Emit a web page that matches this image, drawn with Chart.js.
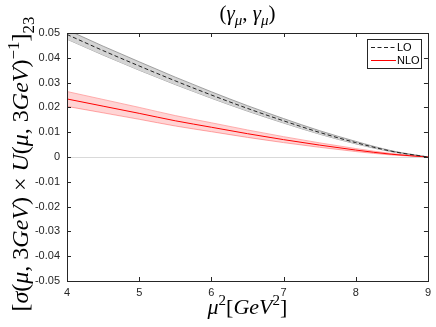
<!DOCTYPE html>
<html>
<head>
<meta charset="utf-8">
<script src="https://cdn.jsdelivr.net/npm/chart.js@4/dist/chart.umd.min.js"></script>
<style>
  body { margin: 0; background: #fff; }
  canvas { display: block; }
</style>
</head>
<body>
<canvas id="c" width="436" height="327"></canvas>
<script>
// data
const muSq = [4, 4.5, 5, 5.5, 6, 6.5, 7, 7.5, 8, 8.5, 9];
const loMid = [0.0494, 0.0429, 0.0367, 0.0307, 0.0250, 0.0196, 0.0146, 0.0099, 0.0058, 0.0023, 0];
const loUpper = [0.0513, 0.0447, 0.0384, 0.0322, 0.0263, 0.0207, 0.0155, 0.0106, 0.0063, 0.0025, 0];
const loLower = [0.0475, 0.0411, 0.0350, 0.0292, 0.0237, 0.0185, 0.0137, 0.0092, 0.0053, 0.0021, 0];
const nloMid = [0.0234, 0.0205, 0.0176, 0.0146, 0.0120, 0.0094, 0.0070, 0.0048, 0.0028, 0.0011, 0];
const nloUpper = [0.0264, 0.0232, 0.0200, 0.0167, 0.0138, 0.0109, 0.0082, 0.0057, 0.0034, 0.0014, 0];
const nloLower = [0.0204, 0.0178, 0.0152, 0.0125, 0.0102, 0.0079, 0.0058, 0.0039, 0.0022, 0.0008, 0];
const xTicks = [4, 5, 6, 7, 8, 9];
const yTicks = [-0.05, -0.04, -0.03, -0.02, -0.01, 0, 0.01, 0.02, 0.03, 0.04, 0.05];

const pts = (ys) => muSq.map((x, i) => ({ x: x, y: ys[i] }));
const axisColor = "#262626";
const serif = "'Liberation Serif', 'DejaVu Serif', serif";

// draw text made of pieces with sub/superscripts, centred on (x, y)
function drawRich(ctx, segs, x, y, size, angle) {
  ctx.save();
  ctx.translate(x, y);
  ctx.rotate(angle || 0);
  ctx.textBaseline = "alphabetic";
  ctx.textAlign = "left";
  let total = 0;
  segs.forEach((s) => {
    ctx.font = (s.it ? "italic " : "") + Math.round(size * (s.sc || 1)) + "px " + serif;
    s.w = ctx.measureText(s.t).width;
    total += s.w;
  });
  let cx = -total / 2;
  segs.forEach((s) => {
    ctx.font = (s.it ? "italic " : "") + Math.round(size * (s.sc || 1)) + "px " + serif;
    ctx.fillStyle = "#000";
    ctx.fillText(s.t, cx, size * 0.35 + (s.dy || 0) * size);
    cx += s.w;
  });
  ctx.restore();
}

const framePlugin = {
  id: "frame",
  afterDraw(chart) {
    const ctx = chart.ctx;
    const a = chart.chartArea;
    const xs = chart.scales.x, ys = chart.scales.y;
    ctx.save();
    ctx.strokeStyle = axisColor;
    ctx.lineWidth = 1;
    ctx.strokeRect(Math.round(a.left) + 0.5, Math.round(a.top) + 0.5,
      Math.round(a.right - a.left), Math.round(a.bottom - a.top));
    ctx.beginPath();
    xTicks.forEach((v) => {
      const px = Math.round(xs.getPixelForValue(v)) + 0.5;
      ctx.moveTo(px, a.bottom); ctx.lineTo(px, a.bottom - 4);
      ctx.moveTo(px, a.top); ctx.lineTo(px, a.top + 4);
    });
    yTicks.forEach((v) => {
      const py = Math.round(ys.getPixelForValue(v)) + 0.5;
      ctx.moveTo(a.left, py); ctx.lineTo(a.left + 4, py);
      ctx.moveTo(a.right, py); ctx.lineTo(a.right - 4, py);
    });
    ctx.stroke();

    // legend box
    const lx = 367, ly = 39, lw = 54, lh = 29;
    ctx.fillStyle = "#fff";
    ctx.fillRect(lx, ly, lw, lh);
    ctx.strokeStyle = axisColor;
    ctx.strokeRect(lx + 0.5, ly + 0.5, lw, lh);
    const items = [
      { label: "LO", color: "#222", dash: [4, 2.5], y: ly + 8 },
      { label: "NLO", color: "#ff0000", dash: [], y: ly + 21 }
    ];
    ctx.font = "11px 'Liberation Sans', Arial, sans-serif";
    ctx.textBaseline = "middle";
    items.forEach((it) => {
      ctx.beginPath();
      ctx.setLineDash(it.dash);
      ctx.strokeStyle = it.color;
      ctx.lineWidth = 1;
      ctx.moveTo(lx + 4, it.y + 0.5);
      ctx.lineTo(lx + 29, it.y + 0.5);
      ctx.stroke();
      ctx.setLineDash([]);
      ctx.fillStyle = "#000";
      ctx.fillText(it.label, lx + 30, it.y + 1);
    });

    // titles
    drawRich(ctx, [
      { t: "(" }, { t: "γ", it: true }, { t: "μ", it: true, sc: 0.7, dy: 0.2 },
      { t: ", " }, { t: "γ", it: true }, { t: "μ", it: true, sc: 0.7, dy: 0.2 }, { t: ")" }
    ], (a.left + a.right) / 2, 13, 21, 0);

    drawRich(ctx, [
      { t: "μ", it: true }, { t: "2", sc: 0.7, dy: -0.38 }, { t: "[" },
      { t: "GeV", it: true }, { t: "2", sc: 0.7, dy: -0.38 }, { t: "]" }
    ], (a.left + a.right) / 2, 306, 22, 0);

    drawRich(ctx, [
      { t: "[" }, { t: "σ", it: true }, { t: "(" }, { t: "μ", it: true }, { t: ", 3" },
      { t: "GeV", it: true }, { t: ") × " }, { t: "U", it: true }, { t: "(" },
      { t: "μ", it: true }, { t: ", 3" }, { t: "GeV", it: true }, { t: ")" },
      { t: "−1", sc: 0.7, dy: -0.4 }, { t: "]" }, { t: "23", sc: 0.7, dy: 0.25 }
    ], 20, 164, 24, -Math.PI / 2);
    ctx.restore();
  }
};

const band = (data, fillTo, fill, edge) => ({
  data: pts(data),
  borderColor: edge,
  borderWidth: 0.8,
  backgroundColor: fill,
  fill: fillTo,
  pointRadius: 0,
  order: 2,
  cubicInterpolationMode: "monotone"
});

new Chart(document.getElementById("c"), {
  type: "line",
  data: {
    datasets: [
      band(loUpper, "+1", "#d4d4d4", "#8c8c8c"),
      band(loLower, false, "#d4d4d4", "#8c8c8c"),
      band(nloUpper, "+1", "rgba(255,0,0,0.17)", "#ff9a9a"),
      band(nloLower, false, "rgba(255,0,0,0.17)", "#ff9a9a"),
      {
        label: "LO",
        data: pts(loMid),
        borderColor: "#222",
        borderWidth: 1,
        borderDash: [4, 2.5],
        pointRadius: 0,
        fill: false,
        order: 0,
        cubicInterpolationMode: "monotone"
      },
      {
        label: "NLO",
        data: pts(nloMid),
        borderColor: "#ff0000",
        borderWidth: 1,
        pointRadius: 0,
        fill: false,
        order: 0,
        cubicInterpolationMode: "monotone"
      }
    ]
  },
  options: {
    responsive: false,
    animation: false,
    layout: { padding: { top: 33, right: 7, left: 0, bottom: 0 } },
    plugins: { legend: { display: false }, tooltip: { enabled: false } },
    scales: {
      x: {
        type: "linear",
        min: 4,
        max: 9,
        afterBuildTicks: (s) => { s.ticks = xTicks.map((v) => ({ value: v })); },
        afterFit: (s) => { s.height = 46; },
        ticks: { color: axisColor, padding: 5, font: { size: 11, family: "'Liberation Sans', Arial, sans-serif" } },
        grid: { display: false, drawTicks: false },
        border: { display: false }
      },
      y: {
        min: -0.05,
        max: 0.05,
        afterBuildTicks: (s) => { s.ticks = yTicks.map((v) => ({ value: v })); },
        afterFit: (s) => { s.width = 67; },
        ticks: {
          color: axisColor,
          padding: 7,
          font: { size: 11, family: "'Liberation Sans', Arial, sans-serif" },
          callback: (v) => (Math.abs(v) < 1e-9 ? "0" : v.toFixed(2))
        },
        grid: {
          drawTicks: false,
          color: (c) => (c.tick && Math.abs(c.tick.value) < 1e-9 ? "#d9d9d9" : "rgba(0,0,0,0)")
        },
        border: { display: false }
      }
    }
  },
  plugins: [framePlugin]
});
</script>
</body>
</html>
